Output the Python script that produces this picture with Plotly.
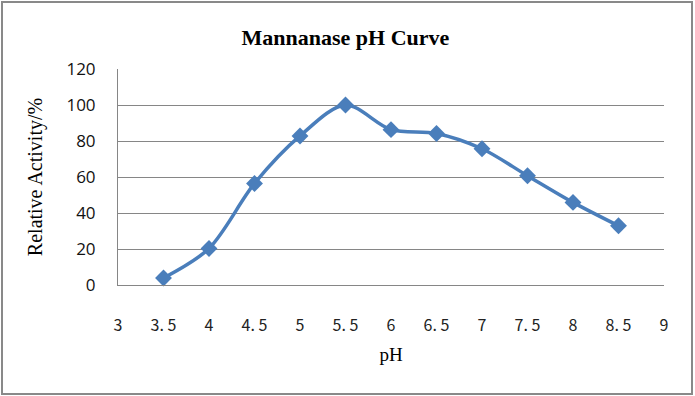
import plotly.graph_objects as go

ph = [3.5, 4, 4.5, 5, 5.5, 6, 6.5, 7, 7.5, 8, 8.5]
activity = [3.9, 20.3, 56.4, 82.8, 100, 86.3, 84.2, 75.7, 60.7, 45.9, 32.9]
x_ticks = [3, 3.5, 4, 4.5, 5, 5.5, 6, 6.5, 7, 7.5, 8, 8.5, 9]
x_ticktext = ["3", "3. 5", "4", "4. 5", "5", "5. 5", "6", "6. 5", "7", "7. 5", "8", "8. 5", "9"]
y_ticks = [0, 20, 40, 60, 80, 100, 120]

blue = "#4A7EBB"
grid = "#868686"

fig = go.Figure()
fig.add_trace(go.Scatter(
    x=ph, y=activity, mode="lines+markers",
    line=dict(color=blue, width=3.5, shape="spline", smoothing=0.9),
    marker=dict(symbol="diamond", size=13, color=blue),
    showlegend=False, cliponaxis=False,
))

L, R, T, B = 118, 31, 69, 111
W, H = 695, 396
pw, ph_ = W - L - R, H - T - B

fig.update_layout(
    width=W, height=H,
    margin=dict(l=L, r=R, t=T, b=B, autoexpand=False),
    paper_bgcolor="white", plot_bgcolor="white",
    title=dict(text="<b>Mannanase pH Curve</b>", x=0.497, xanchor="center",
               y=1 - 37 / H, yanchor="middle", automargin=False,
               font=dict(family="Liberation Serif", size=22, color="#000")),
    xaxis=dict(range=[3, 9], tickvals=x_ticks, ticktext=x_ticktext, automargin=False,
               showgrid=False, zeroline=False, showline=True, linecolor=grid, linewidth=1,
               ticks="", ticklabelstandoff=26,
               tickfont=dict(family="Noto Sans CJK SC", size=16, color="#222"),
               title=dict(text="pH", font=dict(family="Liberation Serif", size=19, color="#000"),
                          standoff=12)),
    yaxis=dict(range=[0, 120], tickvals=y_ticks, showgrid=True, gridcolor=grid, gridwidth=1,
               automargin=False,
               zeroline=False, showline=True, linecolor=grid, linewidth=1, ticks="",
               ticklabelstandoff=18,
               tickfont=dict(family="Open Sans", size=17, color="#111"),
               title=dict(text="Relative Activity/%", font=dict(family="Liberation Serif", size=20, color="#000"),
                          standoff=18)),
)

fig.add_shape(type="rect", xref="paper", yref="paper",
              x0=(2 - L) / pw, x1=(692 - L) / pw,
              y0=(H - B - 394) / ph_, y1=(H - B - 2) / ph_,
              line=dict(color="#898989", width=2), fillcolor="rgba(0,0,0,0)", layer="below")

fig.write_html("out.html", config={"displayModeBar": False},
               post_script="document.body.style.margin='0';document.body.style.overflow='hidden';")
